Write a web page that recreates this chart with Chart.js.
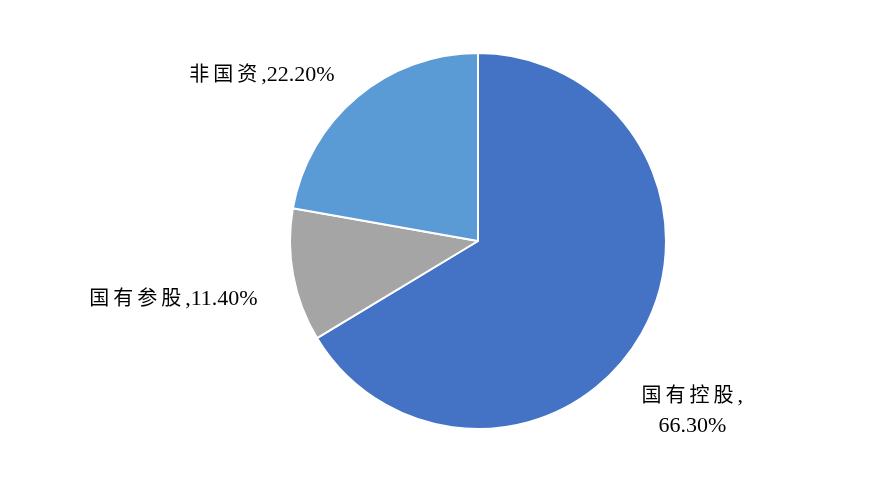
<!DOCTYPE html>
<html>
<head>
<meta charset="utf-8">
<script src="https://cdn.jsdelivr.net/npm/chart.js@4/dist/chart.umd.min.js"></script>
<style>
  html, body { margin: 0; padding: 0; background: #fff; }
  #wrap { width: 891px; height: 490px; position: relative; }
</style>
</head>
<body>
<div id="wrap"><canvas id="pie"></canvas></div>
<script>
// data
const categories = ['国有控股', '国有参股', '非国资'];
const shares = [66.30, 11.40, 22.20];
const colors = ['#4472C4', '#A5A5A5', '#5B9BD5'];

// label text lines and where to put them, in units of the pie radius from its centre
const labelLines = [['国有控股,', '66.30%'], ['国有参股,11.40%'], ['非国资,22.20%']];
const labelPos = [[1.14, 0.90], [-1.62, 0.305], [-1.15, -0.888]];

const CJK_FONT = '20px "Noto Sans CJK SC", sans-serif';
const LATIN_FONT = '22px "Liberation Serif", "Times New Roman", serif';

// split a string into CJK / latin runs so each gets its own font and spacing
function runs(text) {
  const out = [];
  for (const ch of text) {
    const cjk = /[\u4e00-\u9fff]/.test(ch);
    const last = out[out.length - 1];
    if (last && last.cjk === cjk) last.t += ch; else out.push({ t: ch, cjk });
  }
  return out;
}

function setRunFont(ctx, run) {
  ctx.font = run.cjk ? CJK_FONT : LATIN_FONT;
  ctx.letterSpacing = run.cjk ? '4px' : '0px';
}

function drawMixed(ctx, text, cx, cy) {
  const parts = runs(text);
  let total = 0;
  parts.forEach(p => { setRunFont(ctx, p); p.w = ctx.measureText(p.t).width; total += p.w; });
  let x = cx - total / 2;
  parts.forEach(p => { setRunFont(ctx, p); ctx.fillText(p.t, x, cy); x += p.w; });
}

const pieLabels = {
  id: 'pieLabels',
  afterDatasetsDraw(chart) {
    const ctx = chart.ctx;
    const arcs = chart.getDatasetMeta(0).data;
    ctx.save();
    ctx.fillStyle = '#000';
    ctx.textAlign = 'left';
    ctx.textBaseline = 'alphabetic';
    arcs.forEach((arc, i) => {
      const r = arc.outerRadius;
      const cx = arc.x + labelPos[i][0] * r;
      const cy = arc.y + labelPos[i][1] * r;
      const lines = labelLines[i];
      const lh = 30;
      lines.forEach((t, k) => {
        drawMixed(ctx, t, cx, cy + 7 + (k - (lines.length - 1) / 2) * lh);
      });
    });
    ctx.restore();
  }
};

new Chart(document.getElementById('pie').getContext('2d'), {
  type: 'pie',
  data: {
    labels: categories,
    datasets: [{
      data: shares,
      backgroundColor: colors,
      borderColor: '#fff',
      borderWidth: 2
    }]
  },
  options: {
    responsive: true,
    maintainAspectRatio: false,
    animation: false,
    layout: { padding: { left: 100, right: 35, top: 52, bottom: 60 } },
    plugins: { legend: { display: false }, tooltip: { enabled: false } }
  },
  plugins: [pieLabels]
});
</script>
</body>
</html>
